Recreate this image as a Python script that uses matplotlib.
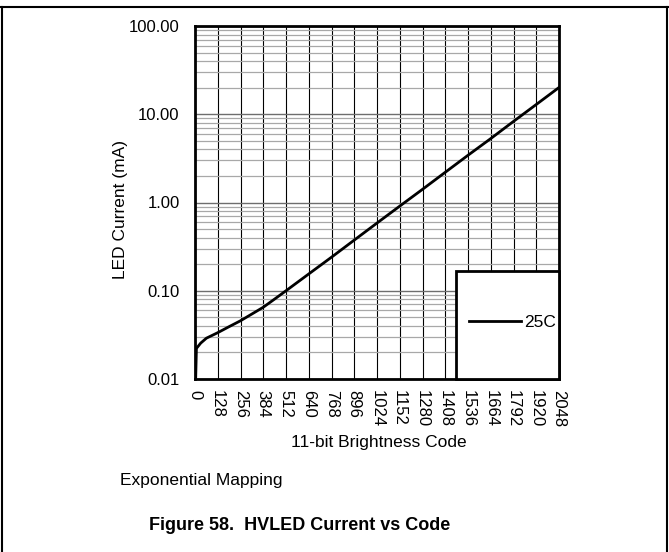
import matplotlib.pyplot as plt
from matplotlib.lines import Line2D
from matplotlib.patches import Rectangle
from matplotlib.ticker import FixedLocator, FormatStrFormatter, LogLocator, NullFormatter

plt.rcParams['font.family'] = ['Liberation Sans', 'DejaVu Sans']

# values
code = [0, 8, 32, 64, 128, 192, 256, 320, 384, 448, 512, 640, 768, 896, 1024,
        1152, 1280, 1408, 1536, 1664, 1792, 1920, 2048]
current_ma = [0.0050, 0.0222, 0.0255, 0.0290, 0.0335, 0.0392, 0.0457, 0.0545, 0.0650, 0.0805, 0.100,
              0.155, 0.240, 0.375, 0.585, 0.910, 1.41, 2.20, 3.43, 5.30, 8.30, 12.9, 20.1]
x_ticks = list(range(0, 2049, 128))
y_ticks = [0.01, 0.1, 1, 10, 100]
series_label = "25C"

fig = plt.figure(figsize=(6.69, 5.52), dpi=100)
ax = fig.add_axes([195 / 669, 1 - 379 / 552, 364 / 669, 353 / 552])

ax.plot(code, current_ma, color='black', lw=2, label=series_label, zorder=3)
ax.set_yscale('log')
ax.set_xlim(0, 2048)
ax.set_ylim(0.01, 100)

ax.xaxis.set_major_locator(FixedLocator(x_ticks))
ax.set_xticklabels([str(t) for t in x_ticks], rotation=-90, fontsize=12)
ax.yaxis.set_major_locator(FixedLocator(y_ticks))
ax.yaxis.set_major_formatter(FormatStrFormatter('%.2f'))
ax.yaxis.set_minor_locator(LogLocator(base=10, subs=range(2, 10)))
ax.yaxis.set_minor_formatter(NullFormatter())
ax.tick_params(axis='both', which='both', length=0, labelsize=12)
ax.tick_params(axis='x', pad=8)
ax.tick_params(axis='y', pad=11)

ax.grid(True, axis='x', which='major', color='black', lw=0.8)
ax.grid(True, axis='y', which='major', color='#6e6e6e', lw=1.0)
ax.grid(True, axis='y', which='minor', color='#a8a8a8', lw=0.9)
for s in ax.spines.values():
    s.set_linewidth(2)

ax.set_xlabel("11-bit Brightness Code", fontsize=12.5)
ax.xaxis.set_label_coords(0.505, -0.16)
ax.set_ylabel("LED Current (mA)", fontsize=12.5)
ax.yaxis.set_label_coords(-0.184, 0.479)

# legend box
ax.add_patch(Rectangle((0.717, 0), 0.283, 0.306, transform=ax.transAxes,
                       facecolor='white', edgecolor='black', lw=2, zorder=4, clip_on=False))
leg = ax.legend(loc='center left', bbox_to_anchor=(0.728, 0.159), frameon=False, borderpad=0,
                handlelength=3.0, handletextpad=0.17, fontsize=12.5)
leg.set_zorder(5)

fig.text(120 / 669, 1 - 481 / 552, "Exponential Mapping", fontsize=12.5, va='center', ha='left')
fig.text(300 / 669, 1 - 526 / 552, "Figure 58.  HVLED Current vs Code", fontsize=13,
         fontweight='bold', va='center', ha='center')

# page frame
fig.add_artist(Line2D([0, 1], [1 - 7 / 552, 1 - 7 / 552], color='black', lw=1.5))
fig.add_artist(Line2D([1.5 / 669, 1.5 / 669], [0, 1 - 7 / 552], color='black', lw=1.5))
fig.add_artist(Line2D([667 / 669, 667 / 669], [0, 1 - 7 / 552], color='black', lw=1.5))

fig.savefig("out.png", dpi=100)
